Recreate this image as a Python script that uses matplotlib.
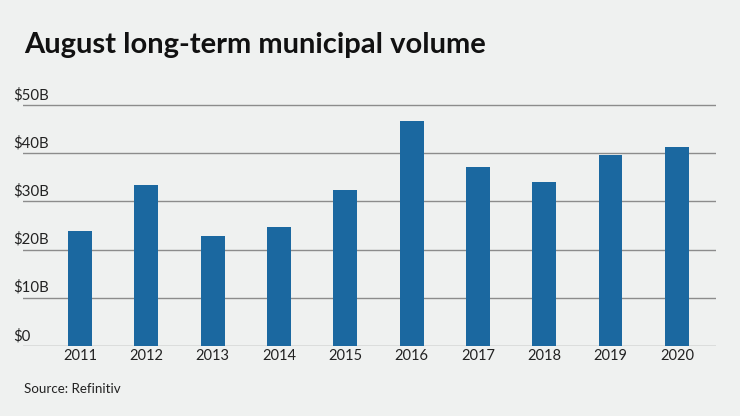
import matplotlib.pyplot as plt
from matplotlib import transforms

years = ['2011', '2012', '2013', '2014', '2015', '2016', '2017', '2018', '2019', '2020']
volume = [23.8, 33.5, 22.8, 24.7, 32.4, 46.7, 37.1, 34.0, 39.6, 41.3]  # $ billions
yticks = [0, 10, 20, 30, 40, 50]
ytick_labels = ['$0', '$10B', '$20B', '$30B', '$40B', '$50B']

bg = '#eff1f0'
bar_color = '#1b68a0'
grid_color = '#8c8c8c'

plt.rcParams['font.family'] = ['Lato', 'DejaVu Sans']

fig = plt.figure(figsize=(7.4, 4.16), dpi=100, facecolor=bg)
ax = fig.add_axes([23 / 740, 1 - 346 / 416, (716 - 23) / 740, (346 - 100.2) / 416])
ax.set_facecolor(bg)

# gridlines under the bars
for y in yticks:
    ax.axhline(y, color=grid_color, lw=1.0, zorder=1)

x = list(range(len(years)))
ax.bar(x, volume, width=0.36, color=bar_color, zorder=2)

ax.set_xlim(-0.86, 9.59)
ax.set_ylim(0, 51)
ax.set_xticks(x)
ax.set_xticklabels(years, fontsize=10.5, color='#222222')
ax.tick_params(axis='x', length=0, pad=2)
ax.set_yticks([])
for s in ax.spines.values():
    s.set_visible(False)

# y labels sit above the gridlines, left aligned
trans = transforms.blended_transform_factory(fig.transFigure, ax.transData)
for y, lab in zip(yticks, ytick_labels):
    ax.text(13 / 740, y + 0.6, lab, transform=trans, ha='left', va='bottom',
            fontsize=10.8, color='#222222')

fig.text(24 / 740, 1 - 53 / 416, 'August long-term municipal volume',
         fontsize=21, fontweight='bold', color='#111111', ha='left', va='baseline')
fig.text(24 / 740, 1 - 393 / 416, 'Source: Refinitiv', fontsize=9.6,
         color='#222222', ha='left', va='baseline')

fig.savefig('out.png', dpi=100, facecolor=bg)
